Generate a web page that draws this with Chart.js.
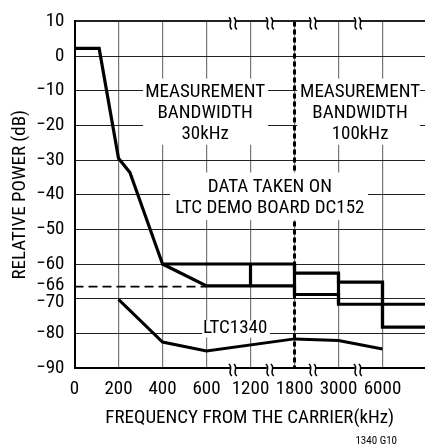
<!DOCTYPE html>
<html><head><meta charset="utf-8">
<script src="https://cdn.jsdelivr.net/npm/chart.js@4.4.1/dist/chart.umd.min.js"></script>
<style>html,body{margin:0;padding:0;background:#fff;overflow:hidden}#wrap{width:425px;height:444px;position:relative}</style>
</head><body><div id="wrap"><canvas id="c"></canvas></div>
<script>
// ---- data ----
const categories = ["0","200","400","600","1200","1800","3000","6000"];
const yTicks = [10,0,-10,-20,-30,-40,-50,-60,-66,-70,-80,-90];
// x values are positions on the (broken) category axis: 0 = "0", 1 = "200", ...
const upperPos = [0, 0.56, 1, 1.26, 2, 5, 5, 6, 6, 7, 7, 8];
const upperDb  = [2.2, 2.2, -29.5, -33.6, -60, -60, -62.6, -62.6, -65.2, -65.2, -71.6, -71.6];
const lowerPos = [2, 3, 5, 5, 6, 6, 7, 7, 8];
const lowerDb  = [-60, -66.3, -66.3, -68.8, -68.8, -71.6, -71.6, -78.2, -78.2];
const stepPos  = [4, 4, 4, 5, 5, 5, 6, 6, 6, 7, 7];
const stepDb   = [-60, -66.3, null, -60, -68.8, null, -62.6, -71.6, null, -65.2, -78.2];
const ltcPos   = [1, 2, 3, 5, 6, 7];
const ltcDb    = [-70.2, -82.5, -85.1, -81.6, -82.1, -84.5];
const limitPos = [0, 3];
const limitDb  = [-66.5, -66.5];
const bwSplitPos = [5, 5];
const bwSplitDb  = [10, -90];
const breakPos = [3.6, 4.44, 5.42, 6.44];

const FONT = "'Liberation Sans Narrow','Arial Narrow','Roboto Condensed','DejaVu Sans Condensed',sans-serif";
Chart.defaults.font.family = FONT;
Chart.defaults.color = '#000';

const xy = (xs, ys) => xs.map((x, i) => ({x: x, y: ys[i]}));
const line = (data, w, dash) => ({data, borderColor:'#000', borderWidth:w, borderDash:dash||[],
  pointRadius:0, tension:0, fill:false, spanGaps:false, borderJoinStyle:'miter', borderCapStyle:'butt'});

const notes = [
  {lines:['MEASUREMENT','BANDWIDTH','30kHz'], cx:2.97, cy:-10.5, box:[1.56,4.40,-6.5,-25.6]},
  {lines:['MEASUREMENT','BANDWIDTH','100kHz'], cx:6.49, cy:-10.5, box:[5.06,7.85,-6.5,-25.6]},
  {lines:['DATA TAKEN ON','LTC DEMO BOARD DC152'], cx:4.44, cy:-37.9, box:[2.17,6.67,-33.6,-47.3]},
  {lines:['LTC1340'], cx:3.65, cy:-78.6, box:[2.90,4.44,-76.3,-81.2]}
];

const notesPlugin = {
  id:'notes',
  afterDatasetsDraw(chart){
    const {ctx, scales:{x, y}} = chart;
    ctx.save();
    notes.forEach(n => {
      const x0 = x.getPixelForValue(n.box[0]), x1 = x.getPixelForValue(n.box[1]);
      const y0 = y.getPixelForValue(n.box[2]), y1 = y.getPixelForValue(n.box[3]);
      ctx.fillStyle = '#fff';
      ctx.fillRect(x0, y0, x1 - x0, y1 - y0);
      ctx.fillStyle = '#000';
      ctx.font = '19px ' + FONT;
      ctx.textAlign = 'center';
      ctx.textBaseline = 'middle';
      const cx = x.getPixelForValue(n.cx), cy = y.getPixelForValue(n.cy);
      n.lines.forEach((t, i) => ctx.fillText(t, cx, cy + i * 21));
    });
    ctx.restore();
  },
  afterDraw(chart){
    const {ctx, chartArea, scales:{x}} = chart;
    ctx.save();
    [chartArea.top, chartArea.bottom].forEach(ay => {
      breakPos.forEach(p => {
        const px = x.getPixelForValue(p);
        ctx.fillStyle = '#fff';
        ctx.fillRect(px - 3, ay - 2, 6, 4);
        ctx.strokeStyle = '#000';
        ctx.lineWidth = 1.5;
        [px - 2.5, px + 2.5].forEach(cx => {
          const cy = ay + 2;
          ctx.beginPath();
          ctx.moveTo(cx - 1.5, cy - 6);
          ctx.bezierCurveTo(cx + 3.5, cy - 2, cx - 3.5, cy + 2, cx + 1.5, cy + 6);
          ctx.stroke();
        });
      });
    });
    ctx.fillStyle = '#000';
    ctx.font = '11px ' + FONT;
    ctx.textAlign = 'right';
    ctx.textBaseline = 'middle';
    ctx.fillText('1340 G10', 397, 441);
    ctx.restore();
  }
};

new Chart(document.getElementById('c'), {
  type:'line',
  data:{datasets:[
    line(xy(bwSplitPos, bwSplitDb), 3, [5,3]),
    line(xy(limitPos, limitDb), 1.8, [9,5]),
    line(xy(upperPos, upperDb), 3.2),
    line(xy(lowerPos, lowerDb), 3.2),
    line(xy(stepPos, stepDb), 3.2),
    line(xy(ltcPos, ltcDb), 3)
  ]},
  options:{
    animation:false, responsive:true, maintainAspectRatio:false,
    layout:{padding:{top:17, left:0, right:0, bottom:0}},
    plugins:{legend:{display:false}, tooltip:{enabled:false}},
    scales:{
      x:{type:'linear', min:0, max:7.966,
        afterBuildTicks: s => { s.ticks = categories.map((c, i) => ({value:i})); },
        afterFit: s => { s.height = 76; },
        ticks:{autoSkip:false, maxRotation:0, minRotation:0, padding:10, font:{size:19},
          callback: v => categories[v]},
        grid:{drawTicks:false, color:'#777', lineWidth:1.2},
        border:{display:true, color:'#000', width:2},
        title:{display:true, text:'FREQUENCY FROM THE CARRIER(kHz)', font:{size:19}, padding:{top:0, bottom:14}}
      },
      y:{type:'linear', min:-90, max:10,
        afterBuildTicks: s => { s.ticks = yTicks.map(v => ({value:v})); },
        afterFit: s => { s.width = 74.5; },
        ticks:{autoSkip:false, padding:10,
          font: c => (c.tick && c.tick.value === -70) ? {size:19, lineHeight:'8px'} : {size:19},
          callback: v => {
            const t = v < 0 ? '\u2212' + Math.abs(v) : String(v);
            return v === -70 ? ['', t] : t;
          }},
        grid:{drawTicks:false,
          color: c => (c.tick && c.tick.value === -66) ? 'rgba(0,0,0,0)' : '#222',
          lineWidth: c => (c.tick && c.tick.value === 10) ? 2 : 1},
        border:{display:true, color:'#000', width:2},
        title:{display:true, text:'RELATIVE POWER (dB)', font:{size:19}, padding:{top:9, bottom:0}}
      }
    }
  },
  plugins:[notesPlugin]
});
</script></body></html>
